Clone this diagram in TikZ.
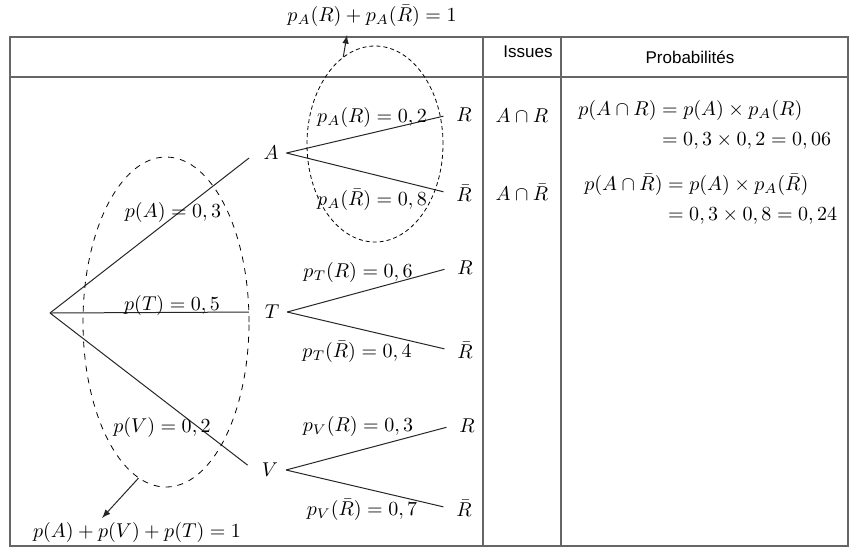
\documentclass[tikz,border=0pt]{standalone}
\usepackage{amsmath, amssymb}
\usepackage{fontspec}
\setsansfont{Liberation Sans}
\usetikzlibrary{shapes.geometric}

\begin{document}
\begin{tikzpicture}[x=0.5pt, y=-0.5pt,
        lbl/.style={inner sep=4pt, outer sep=0pt},
        br/.style={draw=black!85, line width=0.5pt},
        grid/.style={draw=black!60, line width=0.9pt},
        hd/.style={font=\sffamily\fontsize{8.5}{10}\selectfont}]
                \useasboundingbox (0,0) rectangle (851,548);
                \draw[grid] (10,37) rectangle (848,546);
                \draw[grid] (10,77) -- (848,77);
                \draw[grid] (483,37) -- (483,546);
                \draw[grid] (561,37) -- (561,546);
                \node[hd] (I) at (528,52) {Issues};
                \node[hd] (P) at (690,57) {Probabilités};
                \coordinate (O) at (50,313);
                \node[lbl] (A) at (271,153) {$A$};
                \node[lbl] (T) at (272,312) {$T$};
                \node[lbl] (V) at (270,470) {$V$};
                \node[lbl] (AR) at (464,115) {$R$};
                \node[lbl] (AS) at (464,193) {$\bar{R}$};
                \node[lbl] (TR) at (465,268) {$R$};
                \node[lbl] (TS) at (465,350) {$\bar{R}$};
                \node[lbl] (VR) at (467,426) {$R$};
                \node[lbl] (VS) at (464,508) {$\bar{R}$};
                \draw[br, shorten >=4pt] (O) -- (A.west);
                \draw[br, shorten >=4pt] (O) -- (T.west);
                \draw[br, shorten >=4pt] (O) -- (V.west);
                \draw[br, shorten >=2.5pt] (A.east) -- (AR.west);
                \draw[br, shorten >=2.5pt] (A.east) -- (AS.west);
                \draw[br, shorten >=2.5pt] (T.east) -- (TR.west);
                \draw[br, shorten >=2.5pt] (T.east) -- (TS.west);
                \draw[br, shorten >=2.5pt] (V.east) -- (VR.west);
                \draw[br, shorten >=2.5pt] (V.east) -- (VS.west);
                \node (pA) at (173,212) {$p(A)=0,3$};
                \node (pT) at (172,305) {$p(T)=0,5$};
                \node (pV) at (162,427) {$p(V)=0,2$};
                \node (pAR) at (372,117) {$p_A(R)=0,2$};
                \node (pAS) at (372,200) {$p_A(\bar{R})=0,8$};
                \node (pTR) at (358,272) {$p_T(R)=0,6$};
                \node (pTS) at (357,352) {$p_T(\bar{R})=0,4$};
                \node (pVR) at (358,426) {$p_V(R)=0,3$};
                \node (pVS) at (362,510) {$p_V(\bar{R})=0,7$};
                \node[draw, dashed, ellipse, inner sep=0pt,
                    minimum width=83pt, minimum height=165pt] (eL) at (166,322) {};
                \node[draw, ellipse, dash pattern=on 2pt off 1.5pt, inner sep=0pt,
                    minimum width=68pt, minimum height=98pt] (eR) at (375,144) {};
                \node (sR) at (372,16) {$p_A(R)+p_A(\bar{R})=1$};
                \node (sL) at (137,532) {$p(A)+p(V)+p(T)=1$};
                \coordinate (tR) at (347,35);
                \coordinate (tL) at (102,518);
                \draw[br, -latex] (eR.110) -- (tR);
                \draw[br, -latex] (eL.260) -- (tL);
                \node (iAR) at (522,116) {$A\cap R$};
                \node (iAS) at (522,192) {$A\cap\bar{R}$};
                \node[anchor=west, inner sep=0pt] (qAR) at (578,126)
                    {$\begin{aligned} p(A\cap R)&=p(A)\times p_A(R)\\ &=0,3\times 0,2=0,06\end{aligned}$};
                \node[anchor=west, inner sep=0pt] (qAS) at (584,201)
                    {$\begin{aligned} p(A\cap\bar{R})&=p(A)\times p_A(\bar{R})\\ &=0,3\times 0,8=0,24\end{aligned}$};
            \end{tikzpicture}
\end{document}
